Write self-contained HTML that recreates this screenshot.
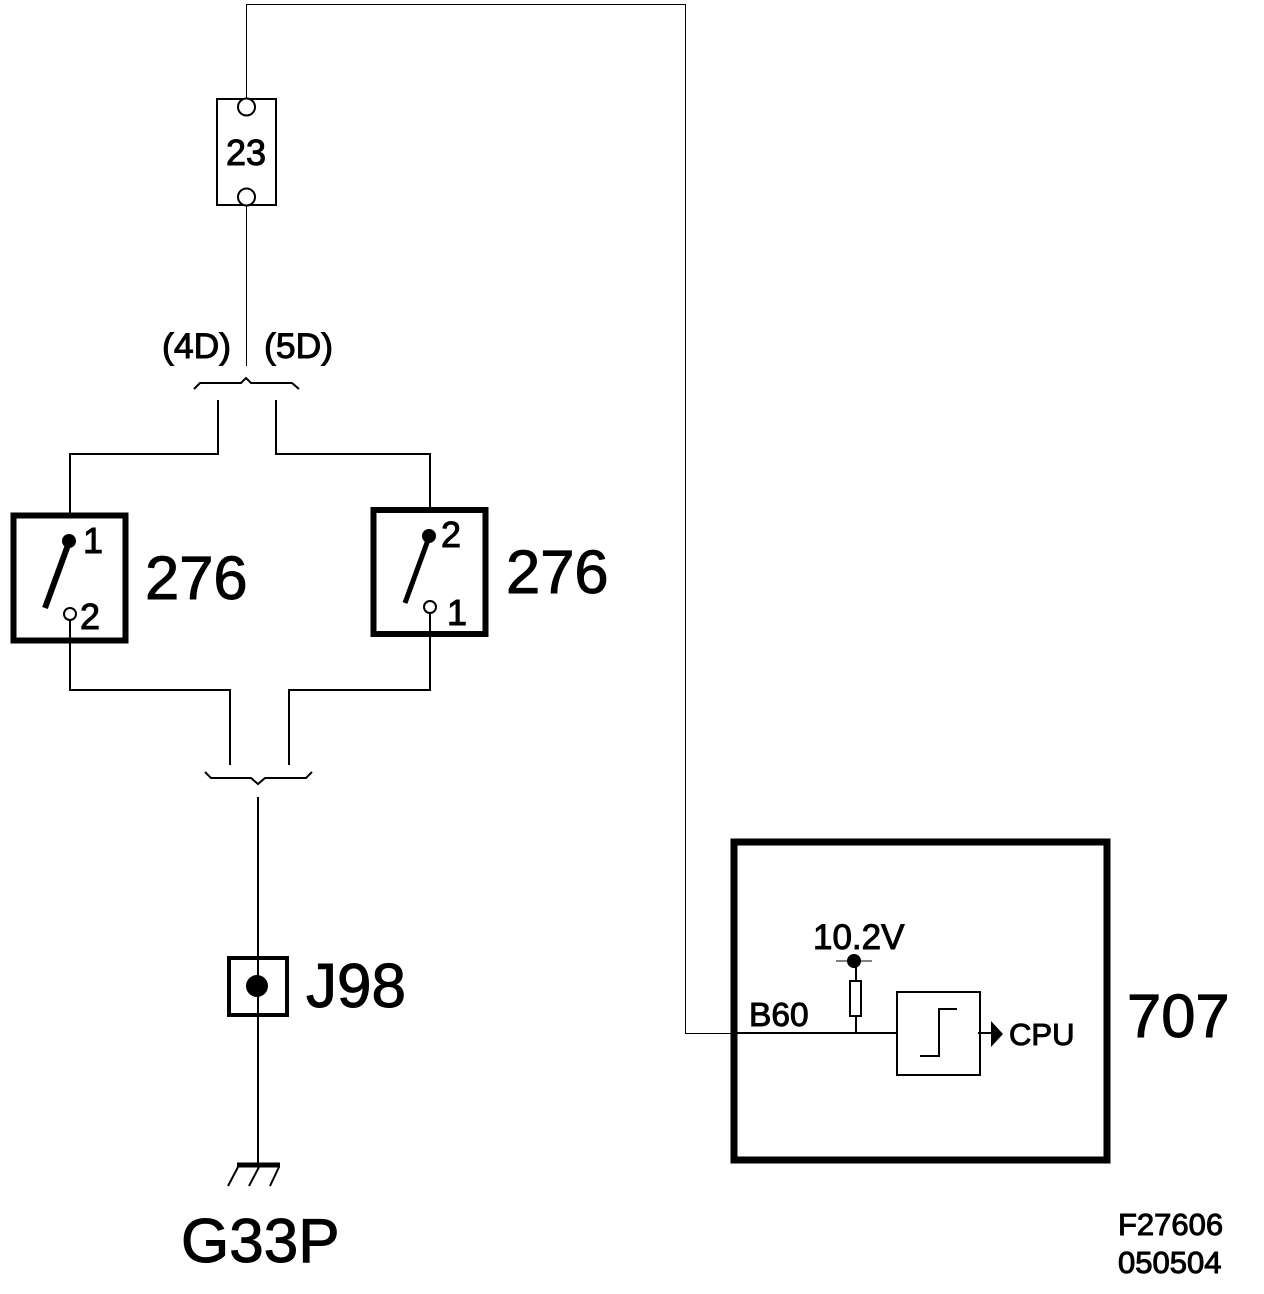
<!DOCTYPE html>
<html>
<head>
<meta charset="utf-8">
<style>
html,body{margin:0;padding:0;background:#fff;}
svg{display:block;}
text{font-family:"Liberation Sans",sans-serif;fill:#000;stroke:#000;stroke-width:1px;}
</style>
</head>
<body>
<svg width="1264" height="1294" viewBox="0 0 1264 1294" xmlns="http://www.w3.org/2000/svg" shape-rendering="crispEdges">
<g fill="none" stroke="#000" stroke-width="1">
<path d="M246.500 99V4.500H685.500V1033.500H735"/>
<path d="M246.500 205V366"/>
</g>
<g fill="none" stroke="#000" stroke-width="2">
<rect x="217" y="99" width="59" height="106"/>
<path d="M70 514V454H218V400"/>
<path d="M430 508V454H276V400"/>
<path d="M70 620V690H230V765"/>
<path d="M430 613V690H289V765"/>
<path d="M258 797V1164"/>
<path d="M736 1033H896"/>
<path d="M856 965V981M856 1016V1033"/>
<rect x="850" y="981" width="11" height="35"/>
<rect x="897" y="992" width="83" height="83"/>
<path d="M920 1056H939V1009H957"/>
<path d="M978 1033H992"/>
</g>
<g fill="none" stroke="#000" stroke-width="2" shape-rendering="geometricPrecision">
<path d="M194 389L200 383H241L246 378L251 383H292L299 389"/>
<path d="M205 772L211 778H251L258 784L265 778H306L312 772"/>
<path d="M228 1186L238 1167M249 1186L259 1167M270 1186L279 1167"/>
<path d="M45 608L68 545" stroke-width="6"/>
<path d="M405 603L428 540" stroke-width="5"/>
</g>
<g fill="#fff" stroke="#000" stroke-width="2" shape-rendering="geometricPrecision">
<circle cx="246.500" cy="107" r="8.500"/>
<circle cx="246.500" cy="197" r="8.500"/>
<circle cx="70" cy="614" r="6"/>
<circle cx="430" cy="607" r="6"/>
</g>
<g fill="#000" shape-rendering="geometricPrecision">
<circle cx="69" cy="541" r="7"/>
<circle cx="429" cy="536" r="7"/>
<circle cx="854" cy="961" r="7"/>
<circle cx="257" cy="986" r="11"/>
<path d="M991 1021L1003 1034L991 1047Z"/>
</g>
<g fill="none" stroke="#000">
<rect x="13.500" y="515.500" width="112" height="125" stroke-width="6"/>
<rect x="373.500" y="510" width="112" height="124" stroke-width="6"/>
<rect x="229" y="958" width="58" height="57" stroke-width="4"/>
<rect x="734" y="842" width="373" height="318" stroke-width="7"/>
<path d="M836 961H872" stroke-width="1"/>
<path d="M237 1165H280" stroke-width="5"/>
</g>
<text x="246" y="165" font-size="36" text-anchor="middle">23</text>
<text x="162" y="358" font-size="35.500">(4D)</text>
<text x="264" y="358" font-size="35.500">(5D)</text>
<text x="83" y="553" font-size="36">1</text>
<text x="80" y="629" font-size="36">2</text>
<text x="441" y="547" font-size="36">2</text>
<text x="447" y="625" font-size="36">1</text>
<text x="145" y="599" font-size="61.500">276</text>
<text x="506" y="593" font-size="61.500">276</text>
<text x="306" y="1007" font-size="62">J98</text>
<text x="181" y="1262" font-size="62">G33P</text>
<text x="813" y="949" font-size="35">10.2V</text>
<text x="749" y="1026" font-size="33.500">B60</text>
<text x="1009" y="1045" font-size="31">CPU</text>
<text x="1127" y="1037" font-size="61.500">707</text>
<text x="1118" y="1235" font-size="31">F27606</text>
<text x="1118" y="1273" font-size="31">050504</text>
</svg>
</body>
</html>
